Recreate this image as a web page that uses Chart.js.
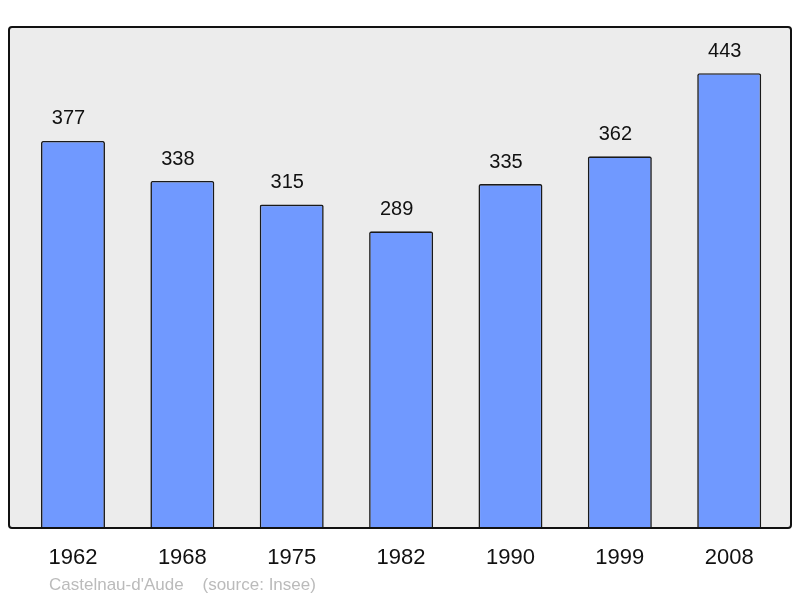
<!DOCTYPE html>
<html><head><meta charset="utf-8">
<script src="https://cdn.jsdelivr.net/npm/chart.js@4/dist/chart.umd.min.js"></script>
<style>html,body{margin:0;padding:0;background:#fff}#w{width:800px;height:598px}</style>
</head><body><div id="w"><canvas id="c"></canvas></div>
<script>
const years = ["1962","1968","1975","1982","1990","1999","2008"];
const population = [377,338,315,289,335,362,443];
const caption = "Castelnau-d'Aude    (source: Insee)";

const framePlugin = {
  id:'frame',
  beforeDatasetsDraw(chart){
    const {ctx, chartArea:a} = chart;
    ctx.save();
    ctx.beginPath();
    ctx.roundRect(a.left, a.top, a.right-a.left, a.bottom-a.top, 3);
    ctx.fillStyle = '#ececec';
    ctx.fill();
    ctx.restore();
  },
  afterDatasetsDraw(chart){
    const {ctx, chartArea:a} = chart;
    ctx.save();
    ctx.beginPath();
    ctx.roundRect(a.left, a.top, a.right-a.left, a.bottom-a.top, 3);
    ctx.lineWidth = 2;
    ctx.strokeStyle = '#111';
    ctx.stroke();
    const meta = chart.getDatasetMeta(0);
    ctx.font = '20px "Liberation Sans", Arial, sans-serif';
    ctx.fillStyle = '#111';
    ctx.textAlign = 'center';
    ctx.textBaseline = 'middle';
    meta.data.forEach((el,i)=>{
      ctx.fillText(String(population[i]), el.x - 4.5, el.y - 22);
    });
    ctx.font = '17px "Liberation Sans", Arial, sans-serif';
    ctx.fillStyle = '#bbbbbb';
    ctx.textAlign = 'left';
    ctx.fillText(caption, 49, 585);
    ctx.restore();
  }
};

new Chart(document.getElementById('c'), {
  type:'bar',
  data:{
    datasets:[{
      data: population.map((v,i)=>({x:i, y:v})),
      backgroundColor:'#7099ff',
      borderColor:'#1a1a1a',
      borderWidth:1.6,
      borderSkipped:'bottom',
      borderRadius:2,
      categoryPercentage:1,
      barPercentage:0.585
    }]
  },
  options:{
    responsive:true, maintainAspectRatio:false, animation:false,
    devicePixelRatio:1,
    layout:{padding:{left:9, right:9, top:27, bottom:9.6}},
    plugins:{legend:{display:false}, tooltip:{enabled:false}},
    scales:{
      x:{
        type:'linear', min:-0.585, max:6.565, offset:false,
        grid:{display:false, drawTicks:false},
        border:{display:false},
        afterBuildTicks(s){ s.ticks = years.map((y,i)=>({value:i})); },
        ticks:{
          autoSkip:false, maxRotation:0,
          padding:17,
          color:'#111',
          font:{size:22, family:'"Liberation Sans", Arial, sans-serif'},
          callback:(v)=>years[v]
        }
      },
      y:{
        display:false, min:0, max:488
      }
    }
  },
  plugins:[framePlugin]
});
</script></body></html>
